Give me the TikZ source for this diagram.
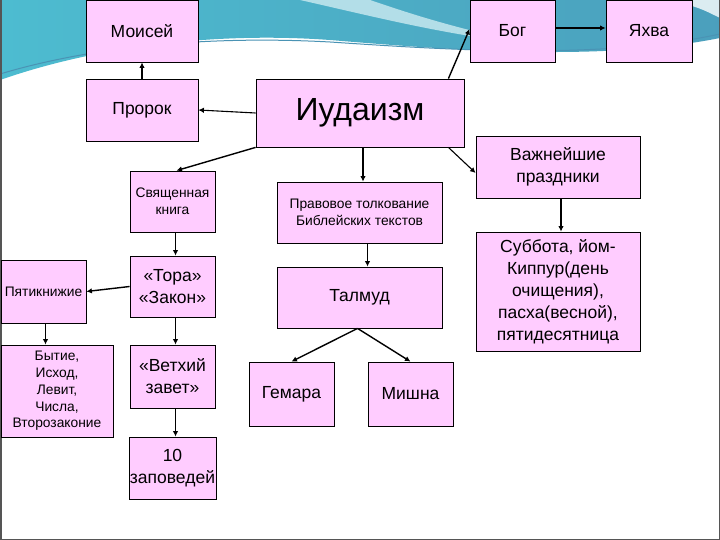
\documentclass[tikz,border=0pt]{standalone}
\usepackage{fontspec}
\setmainfont{Liberation Sans}
\usepackage{tikz}
\usetikzlibrary{arrows.meta,positioning,calc}
\definecolor{boxpink}{HTML}{FFCCFF}
\definecolor{slideteal}{HTML}{4DBCD0}
\definecolor{slidedeep}{HTML}{4A93B4}
\definecolor{slidepale}{HTML}{CDEBF1}
\definecolor{slideframe}{HTML}{555555}
\newcommand{\txtbig}{\fontsize{17.5}{22}\selectfont}
\newcommand{\txtsmall}{\fontsize{13.8}{16.8}\selectfont}
\newcommand{\txthuge}{\fontsize{32}{38}\selectfont}

\begin{document}
\begin{tikzpicture}[x=1pt, y=-1pt, >={Latex[length=5.5pt,width=5.5pt]},
  box/.style={draw, fill=boxpink, line width=0.8pt, align=center, inner sep=1pt, font=\txtbig},
  link/.style={->, line width=1.4pt}]
  \useasboundingbox (0,0) rectangle (720,540);
  \fill[white] (0,0) rectangle (720,540);
  \shade[left color=slideteal, right color=slidedeep!70!slideteal]
    (0,0) -- (0,80) .. controls (100,45) and (220,32) .. (330,40)
    .. controls (450,50) and (600,62) .. (720,38) -- (720,0) -- cycle;
  \fill[slidepale, opacity=0.8] (300,0) .. controls (380,18) and (440,34) .. (540,46)
    .. controls (450,28) and (400,10) .. (370,0) -- cycle;
  \fill[white, opacity=0.8] (670,0) -- (720,0) -- (720,18) .. controls (700,8) .. cycle;
  \draw[slidedeep, line width=1pt] (0,74) .. controls (100,44) and (220,36) .. (330,42)
    .. controls (450,50) and (600,60) .. (720,34);
  \draw[slideframe, line width=1.5pt] (0.75,0) -- (0.75,539.25) -- (719.25,539.25) -- (719.25,0);

  \node[box, minimum width=112pt, minimum height=62pt] (moses) at (142,31) {Моисей};
  \node[box, minimum width=85pt, minimum height=62pt] (god) at (512.5,31) {Бог};
  \node[box, minimum width=86pt, minimum height=62pt] (yahweh) at (649,31) {Яхва};
  \node[box, minimum width=112pt, minimum height=62pt] (prophet) at (142,110) {Пророк};
  \node[box, minimum width=208pt, minimum height=68pt, font=\txthuge] (judaism) at (360,113) {Иудаизм};
  \node[box, minimum width=85pt, minimum height=61pt, font=\txtsmall] (book) at (172.5,201.5) {Священная\\книга};
  \node[box, minimum width=165pt, minimum height=61pt, font=\txtsmall] (law) at (359.5,212.5) {Правовое толкование\\Библейских текстов};
  \node[box, minimum width=164pt, minimum height=62pt] (feasts) at (558,167) {Важнейшие\\праздники};
  \node[box, minimum width=164pt, minimum height=119pt] (sabbath) at (558,291.5) {Суббота, йом-\\Киппур(день\\очищения),\\пасха(весной),\\пятидесятница};
  \node[box, minimum width=85pt, minimum height=61pt] (torah) at (172.5,286.5) {«Тора»\\«Закон»};
  \node[box, minimum width=85pt, minimum height=63pt, font=\txtsmall] (penta) at (43.5,291.5) {Пятикнижие};
  \node[box, minimum width=165pt, minimum height=61pt] (talmud) at (359.5,297.5) {Талмуд};
  \node[box, minimum width=112pt, minimum height=92pt, font=\txtsmall] (books) at (57,391) {Бытие,\\Исход,\\Левит,\\Числа,\\Второзаконие};
  \node[box, minimum width=85pt, minimum height=63pt] (oldtest) at (172.5,376.5) {«Ветхий\\завет»};
  \node[box, minimum width=85pt, minimum height=62pt] (decalog) at (172.5,468) {10\\заповедей};
  \node[box, minimum width=85pt, minimum height=64pt] (gemara) at (291.5,394) {Гемара};
  \node[box, minimum width=85pt, minimum height=64pt] (mishna) at (410.5,394) {Мишна};

  \draw[link] (prophet.north) -- (moses.south);
  \draw[link, line width=1.1pt] (judaism.west) -- (prophet.east);
  \draw[link] ([xshift=-16pt]judaism.north east) -- ([yshift=2pt]god.west);
  \draw[link, line width=1.1pt] ([yshift=3pt]god.east) -- ([yshift=3pt]yahweh.west);
  \draw[link] (judaism.south west) -- ([xshift=4pt]book.north);
  \draw[link] ([xshift=3pt]judaism.south) -- ([xshift=3pt]judaism.south |- law.north);
  \draw[link, line width=1.1pt] ([xshift=-16pt]judaism.south east) -- ([yshift=-6pt]feasts.west);
  \draw[link] ([xshift=3pt]feasts.south) -- ([xshift=3pt]sabbath.north);
  \draw[link] ([xshift=3pt]book.south) -- ([xshift=3pt]torah.north);
  \draw[link] (torah.west) -- (penta.east);
  \draw[link] ([xshift=3pt]torah.south) -- ([xshift=3pt]oldtest.north);
  \draw[link] ([xshift=3pt]oldtest.south) -- ([xshift=3pt]decalog.north);
  \draw[link, line width=1.1pt] ([xshift=2pt]penta.south) -- ([xshift=2pt]penta.south |- books.north);
  \draw[link, line width=1.1pt] ([xshift=8pt]law.south) -- ([xshift=8pt]talmud.north);
  \draw[link] ([xshift=-2pt]talmud.south) -- (gemara.north);
  \draw[link] ([xshift=-2pt]talmud.south) -- (mishna.north);
\end{tikzpicture}
\end{document}
